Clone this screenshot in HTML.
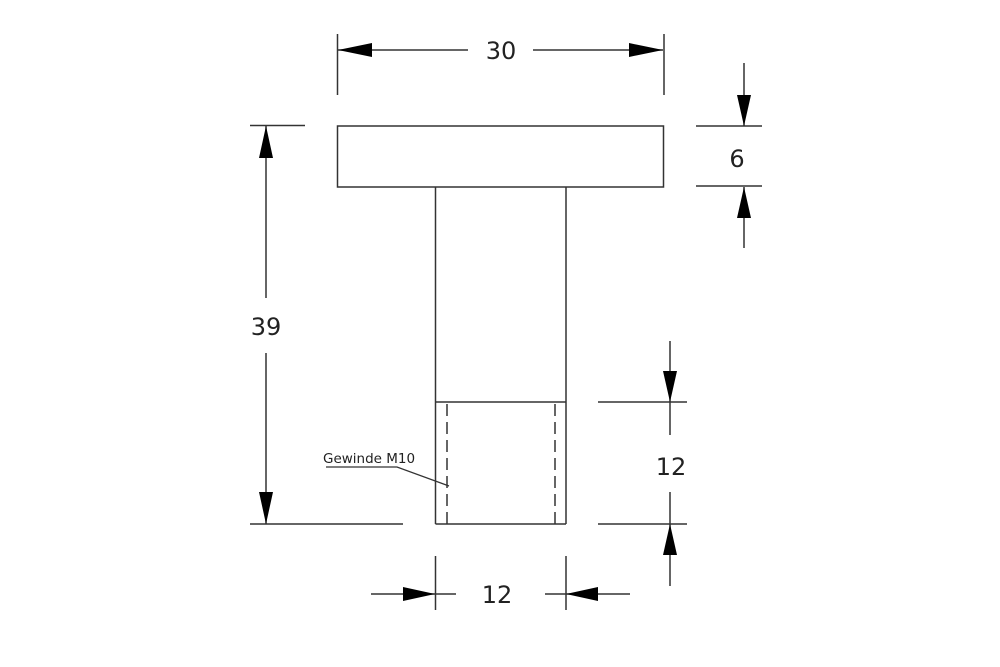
<!DOCTYPE html>
<html><head><meta charset="utf-8"><style>
html,body{margin:0;padding:0;background:#fff;}
svg{display:block;}
text{font-family:"DejaVu Sans","Liberation Sans",sans-serif;fill:#222;}
</style></head><body>
<svg width="1000" height="667" viewBox="0 0 1000 667" xmlns="http://www.w3.org/2000/svg">
<g stroke="#333" stroke-width="1.5" fill="none">
  <!-- head and stem -->
  <rect x="337.5" y="126" width="326" height="61"/>
  <line x1="435.5" y1="187" x2="435.5" y2="524"/>
  <line x1="566" y1="187" x2="566" y2="524"/>
  <line x1="435.5" y1="524" x2="566" y2="524"/>
  <line x1="435.5" y1="402" x2="566" y2="402"/>
  <line x1="447" y1="404" x2="447" y2="524" stroke-dasharray="12,6"/>
  <line x1="555" y1="404" x2="555" y2="524" stroke-dasharray="12,6"/>
  <!-- leader -->
  <polyline points="326,467 397,467 449,486" stroke-width="1.2"/>
  <!-- 30 -->
  <line x1="337.5" y1="34" x2="337.5" y2="95"/>
  <line x1="664" y1="34" x2="664" y2="95"/>
  <line x1="338" y1="50" x2="468" y2="50"/>
  <line x1="533" y1="50" x2="663" y2="50"/>
  <!-- 39 -->
  <line x1="250" y1="125.5" x2="305" y2="125.5"/>
  <line x1="250" y1="524" x2="403" y2="524"/>
  <line x1="266" y1="126" x2="266" y2="298"/>
  <line x1="266" y1="353" x2="266" y2="524"/>
  <!-- 6 -->
  <line x1="696" y1="126" x2="762" y2="126"/>
  <line x1="696" y1="186" x2="762" y2="186"/>
  <line x1="744" y1="63" x2="744" y2="126"/>
  <line x1="744" y1="187" x2="744" y2="248"/>
  <!-- 12 right -->
  <line x1="598" y1="402" x2="687" y2="402"/>
  <line x1="598" y1="524" x2="687" y2="524"/>
  <line x1="670" y1="341" x2="670" y2="435"/>
  <line x1="670" y1="492" x2="670" y2="586"/>
  <!-- 12 bottom -->
  <line x1="435.5" y1="556" x2="435.5" y2="610"/>
  <line x1="566" y1="556" x2="566" y2="610"/>
  <line x1="371" y1="594" x2="456" y2="594"/>
  <line x1="545" y1="594" x2="630" y2="594"/>
</g>
<g fill="#000">
  <polygon points="338,50 372,43 372,57"/>
  <polygon points="663,50 629,43 629,57"/>
  <polygon points="266,126 259,158 273,158"/>
  <polygon points="266,524 259,492 273,492"/>
  <polygon points="744,126 737,95 751,95"/>
  <polygon points="744,187 737,218 751,218"/>
  <polygon points="670,402 663,371 677,371"/>
  <polygon points="670,524 663,555 677,555"/>
  <polygon points="435,594 403,587 403,601"/>
  <polygon points="566,594 598,587 598,601"/>
</g>
<text x="501" y="59" font-size="24" text-anchor="middle">30</text>
<text x="266" y="335" font-size="24" text-anchor="middle">39</text>
<text x="737" y="167" font-size="24" text-anchor="middle">6</text>
<text x="671" y="475" font-size="24" text-anchor="middle">12</text>
<text x="497" y="603" font-size="24" text-anchor="middle">12</text>
<text x="323" y="463" font-size="13.5">Gewinde M10</text>
</svg>
</body></html>
